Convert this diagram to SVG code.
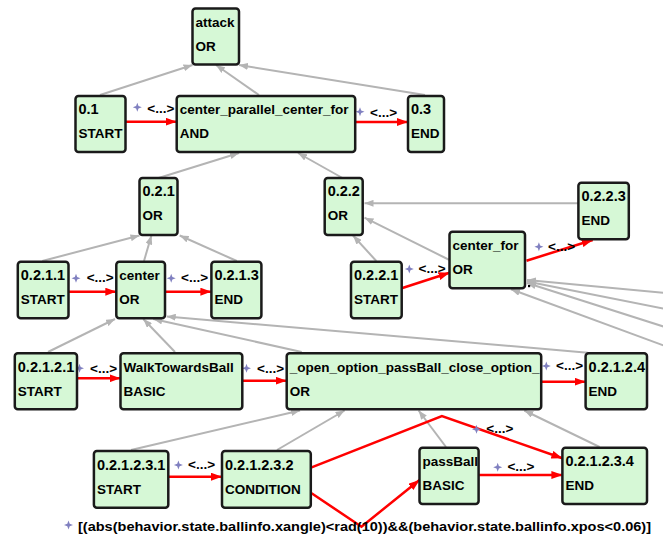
<svg xmlns="http://www.w3.org/2000/svg" width="663" height="539" viewBox="0 0 663 539">
<style>
.box{fill:#d6f8d6;stroke:#1a1a1a;stroke-width:2.5}
text{font-family:"Liberation Sans",Arial,sans-serif;font-weight:bold;font-size:13.5px;fill:#000}
text.d{font-size:14.5px}
.g{stroke:#b4b4b4;stroke-width:2;fill:none;marker-end:url(#ag)}
.r{stroke:#ff0000;stroke-width:2.5;fill:none;marker-end:url(#ar)}
.st{fill:#8080c0}
</style>
<defs>
<marker id="ag" markerUnits="userSpaceOnUse" markerWidth="9" markerHeight="7" refX="9" refY="3.5" orient="auto"><path d="M0,0 L9,3.5 L0,7 z" fill="#b4b4b4"/></marker>
<marker id="ar" markerUnits="userSpaceOnUse" markerWidth="11" markerHeight="8" refX="11" refY="4" orient="auto"><path d="M0,0 L11,4 L0,8 z" fill="#ff0000"/></marker>
<path id="star" class="st" d="M0,-4.5 L1.2,-1.2 L4.5,0 L1.2,1.2 L0,4.5 L-1.2,1.2 L-4.5,0 L-1.2,-1.2 z"/>
</defs>
<g id="connectors">
<line class="g" x1="100" y1="95" x2="192.5" y2="65"/>
<line class="g" x1="259" y1="95" x2="216" y2="65"/>
<line class="g" x1="425" y1="95" x2="239" y2="65"/>
<line class="g" x1="158.6" y1="178" x2="239" y2="153"/>
<line class="g" x1="342.5" y1="178" x2="298" y2="153"/>
<line class="g" x1="42.3" y1="261" x2="139.5" y2="235.5"/>
<line class="g" x1="144" y1="261" x2="151.4" y2="235.5"/>
<line class="g" x1="236.8" y1="261" x2="179.7" y2="235.5"/>
<line class="g" x1="376.3" y1="261" x2="353" y2="235.5"/>
<line class="g" x1="449.5" y1="260" x2="364.5" y2="217.7"/>
<line class="g" x1="578.4" y1="203.3" x2="364.5" y2="203.3"/>
<line class="g" x1="48" y1="352" x2="115" y2="319"/>
<line class="g" x1="175" y1="352" x2="143.3" y2="319"/>
<line class="g" x1="301.7" y1="352" x2="153.3" y2="319"/>
<line class="g" x1="587.7" y1="352.7" x2="166.7" y2="316.5"/>
<line class="g" x1="131" y1="450" x2="300" y2="410.5"/>
<line class="g" x1="277" y1="450" x2="344.6" y2="410.5"/>
<line class="g" x1="446" y1="447" x2="418.6" y2="410.5"/>
<line class="g" x1="599.6" y1="447" x2="524.3" y2="410.5"/>
<line class="g" x1="665" y1="293" x2="527" y2="280"/>
<line class="g" x1="665" y1="309" x2="527" y2="281.5"/>
<line class="g" x1="665" y1="327" x2="527" y2="283"/>
<line class="g" x1="665" y1="346" x2="511" y2="289.3"/>
<rect x="528" y="285" width="2.2" height="2.2" fill="#000"/>
<line class="r" x1="125.6" y1="121.7" x2="176.7" y2="121.7"/>
<line class="r" x1="355.2" y1="122" x2="408" y2="122"/>
<line class="r" x1="68.5" y1="291.7" x2="116.3" y2="291.7"/>
<line class="r" x1="165" y1="291.7" x2="211.4" y2="291.7"/>
<line class="r" x1="401.7" y1="288.3" x2="449.5" y2="272.7"/>
<line class="r" x1="526.5" y1="260.7" x2="592.7" y2="240"/>
<line class="r" x1="77" y1="378.3" x2="120.5" y2="378.3"/>
<line class="r" x1="242.3" y1="380.7" x2="286.7" y2="380.7"/>
<line class="r" x1="541.2" y1="381.7" x2="585.6" y2="381.7"/>
<line class="r" x1="168.3" y1="476.7" x2="222" y2="476.7"/>
<polyline class="r" points="311.6,467.3 441.9,416 562.4,458.3"/>
<polyline class="r" points="311.6,493.3 361.5,526.7 419.5,480"/>
<line class="r" x1="478.6" y1="475" x2="562.4" y2="475"/>
<use href="#star" x="137.3" y="107.3"/><text x="147.3" y="112.7">&lt;...&gt;</text>
<use href="#star" x="360" y="111.7"/><text x="370" y="116.7">&lt;...&gt;</text>
<use href="#star" x="76" y="278.3"/><text x="86.7" y="281.7">&lt;...&gt;</text>
<use href="#star" x="171.2" y="278.3"/><text x="181" y="281.7">&lt;...&gt;</text>
<use href="#star" x="409.3" y="269"/><text x="418.6" y="272.7">&lt;...&gt;</text>
<use href="#star" x="538.9" y="246.7"/><text x="548" y="251">&lt;...&gt;</text>
<use href="#star" x="79.5" y="368.3"/><text x="90" y="373.3">&lt;...&gt;</text>
<use href="#star" x="246.5" y="368.3"/><text x="257" y="373.3">&lt;...&gt;</text>
<use href="#star" x="546.3" y="366"/><text x="556" y="370">&lt;...&gt;</text>
<use href="#star" x="178.4" y="465"/><text x="188" y="469.3">&lt;...&gt;</text>
<use href="#star" x="476.5" y="429.3"/><text x="486.3" y="433.3">&lt;...&gt;</text>
<use href="#star" x="497.7" y="467.3"/><text x="507.4" y="470.7">&lt;...&gt;</text>
<use href="#star" x="68.5" y="525"/><text x="78" y="531" textLength="573" lengthAdjust="spacingAndGlyphs">[(abs(behavior.state.ballinfo.xangle)&lt;rad(10))&amp;&amp;(behavior.state.ballinfo.xpos&lt;0.06)]</text>
</g>
<g id="attack"><rect class="box" x="192.5" y="8.5" width="46.5" height="56" rx="3"/><text x="195.5" y="26.5">attack</text><text x="195.5" y="50.5">OR</text></g>
<g id="n0.1"><rect class="box" x="75.5" y="96" width="50" height="56" rx="3"/><text class="d" x="78.5" y="114">0.1</text><text x="78.5" y="138">START</text></g>
<g id="center_parallel_center_for"><rect class="box" x="176.7" y="96" width="178.5" height="56" rx="3"/><text x="179.7" y="114">center_parallel_center_for</text><text x="179.7" y="138">AND</text></g>
<g id="n0.3"><rect class="box" x="408" y="96" width="36" height="56" rx="3"/><text class="d" x="411" y="114">0.3</text><text x="411" y="138">END</text></g>
<g id="n0.2.1"><rect class="box" x="139.5" y="178" width="38" height="57" rx="3"/><text class="d" x="142.5" y="196">0.2.1</text><text x="142.5" y="220">OR</text></g>
<g id="n0.2.2"><rect class="box" x="324.7" y="178" width="38" height="57" rx="3"/><text class="d" x="327.7" y="196">0.2.2</text><text x="327.7" y="220">OR</text></g>
<g id="n0.2.1.1"><rect class="box" x="17.8" y="261.7" width="50.7" height="56.6" rx="3"/><text class="d" x="20.8" y="280">0.2.1.1</text><text x="20.8" y="304">START</text></g>
<g id="center"><rect class="box" x="116.3" y="261.7" width="48.7" height="56.6" rx="3"/><text x="119.3" y="280">center</text><text x="119.3" y="304">OR</text></g>
<g id="n0.2.1.3"><rect class="box" x="211.4" y="261.7" width="50" height="56.6" rx="3"/><text class="d" x="214.4" y="280">0.2.1.3</text><text x="214.4" y="304">END</text></g>
<g id="n0.2.2.1"><rect class="box" x="351" y="261.7" width="50.7" height="56.6" rx="3"/><text class="d" x="354" y="280">0.2.2.1</text><text x="354" y="304">START</text></g>
<g id="center_for"><rect class="box" x="449.5" y="231.7" width="75.5" height="56.6" rx="3"/><text x="452.5" y="250">center_for</text><text x="452.5" y="274">OR</text></g>
<g id="n0.2.2.3"><rect class="box" x="578.4" y="182.7" width="50.4" height="56.6" rx="3"/><text class="d" x="581.4" y="201">0.2.2.3</text><text x="581.4" y="225">END</text></g>
<g id="n0.2.1.2.1"><rect class="box" x="14.8" y="353.3" width="62.2" height="56" rx="3"/><text class="d" x="17.8" y="371.5">0.2.1.2.1</text><text x="17.8" y="395.5">START</text></g>
<g id="WalkTowardsBall"><rect class="box" x="120.5" y="353.3" width="121.8" height="56" rx="3"/><text x="123.5" y="371.5">WalkTowardsBall</text><text x="123.5" y="395.5">BASIC</text></g>
<g id="open_option_passBall_close_option"><rect class="box" x="286.7" y="353.3" width="254.5" height="56" rx="3"/><text x="289.7" y="371.5">_open_option_passBall_close_option_</text><text x="289.7" y="395.5">OR</text></g>
<g id="n0.2.1.2.4"><rect class="box" x="585.6" y="353.3" width="61.4" height="56" rx="3"/><text class="d" x="588.6" y="371.5">0.2.1.2.4</text><text x="588.6" y="395.5">END</text></g>
<g id="n0.2.1.2.3.1"><rect class="box" x="93.9" y="451" width="74.4" height="56.7" rx="3"/><text class="d" x="96.9" y="469.5">0.2.1.2.3.1</text><text x="96.9" y="493.5">START</text></g>
<g id="n0.2.1.2.3.2"><rect class="box" x="222" y="451" width="88.8" height="56.7" rx="3"/><text class="d" x="225" y="469.5">0.2.1.2.3.2</text><text x="225" y="493.5">CONDITION</text></g>
<g id="passBall"><rect class="box" x="419.5" y="447.7" width="59.1" height="56.3" rx="3"/><text x="422.5" y="466">passBall</text><text x="422.5" y="490">BASIC</text></g>
<g id="n0.2.1.2.3.4"><rect class="box" x="562.4" y="447.7" width="84.6" height="56.3" rx="3"/><text class="d" x="565.4" y="466">0.2.1.2.3.4</text><text x="565.4" y="490">END</text></g>
</svg>
